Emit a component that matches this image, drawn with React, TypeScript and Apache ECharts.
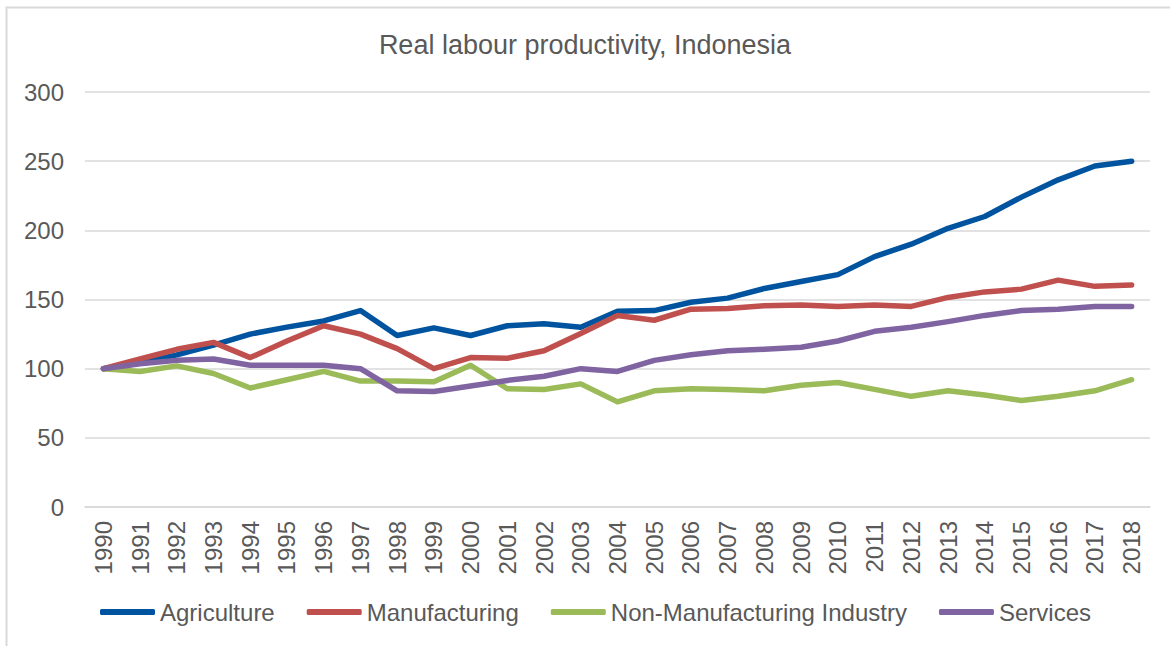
import React, { useEffect, useRef } from "react";
import * as echarts from "echarts";

const years = [
  "1990","1991","1992","1993","1994","1995","1996","1997","1998","1999",
  "2000","2001","2002","2003","2004","2005","2006","2007","2008","2009",
  "2010","2011","2012","2013","2014","2015","2016","2017","2018",
];

const agriculture = [
  100, 104, 110, 117, 125, 130, 134.5, 142, 124, 129.5,
  124, 131, 132.5, 130, 141.5, 142, 148, 151, 158, 163,
  168, 181, 190, 201.5, 210, 224, 236.5, 246.5, 250,
];

const manufacturing = [
  100, 107, 114, 119, 108, 120, 131, 125, 114.5, 100,
  108, 107.5, 113, 125.5, 138.5, 135, 143, 143.5, 145.5, 146,
  145, 146, 145, 151.5, 155.5, 157.5, 164, 159.5, 160.5,
];

const nonManufacturing = [
  100, 98, 102, 96.5, 86, 92, 98, 91, 91, 90.5,
  102.5, 85.5, 85, 89, 76, 84, 85.5, 85, 84, 88,
  90, 85, 80, 84, 81, 77, 80, 84, 92,
];

const services = [
  100, 103.5, 106, 107, 102.5, 102.5, 102.5, 100, 84, 83.5,
  87.5, 91.5, 94.5, 100, 98, 106, 110, 113, 114, 115.5,
  120, 127, 130, 134, 138.5, 142, 143, 145, 145,
];

const yTicks = { min: 0, max: 300, interval: 50 };

const seriesDefs = [
  { name: "Agriculture", data: agriculture, color: "#00549F" },
  { name: "Manufacturing", data: manufacturing, color: "#C0504D" },
  { name: "Non-Manufacturing Industry", data: nonManufacturing, color: "#9BBB59" },
  { name: "Services", data: services, color: "#8064A2" },
];

export default function App() {
  const ref = useRef<HTMLDivElement>(null);

  useEffect(() => {
    document.body.style.margin = "0";
    if (!ref.current) return;
    const chart = echarts.init(ref.current, undefined, { renderer: "svg" });
    const font = "'Liberation Sans', Arial, sans-serif";
    chart.setOption({
      animation: false,
      backgroundColor: "#ffffff",
      graphic: [
        {
          type: "rect",
          shape: { x: 6.5, y: 7.5, width: 1300, height: 800 },
          style: { fill: "none", stroke: "#d9d9d9", lineWidth: 2 },
          silent: true,
          z: -1,
        },
      ],
      title: {
        text: "Real labour productivity, Indonesia",
        left: "center",
        top: 31,
        padding: 0,
        textStyle: {
          fontFamily: font,
          fontSize: 27,
          fontWeight: "normal",
          color: "#595959",
        },
      },
      legend: {
        left: 100,
        top: 600,
        padding: 0,
        itemGap: 32,
        itemWidth: 55,
        itemHeight: 6,
        icon: "roundRect",
        textStyle: { fontFamily: font, fontSize: 24, color: "#595959" },
        data: seriesDefs.map((s) => s.name),
      },
      grid: { left: 85, right: 20, top: 92, bottom: 139, containLabel: false },
      xAxis: {
        type: "category",
        data: years,
        boundaryGap: true,
        axisLine: { lineStyle: { color: "#d9d9d9", width: 1.5 } },
        axisTick: { show: false },
        axisLabel: {
          rotate: 90,
          margin: 14,
          interval: 0,
          fontFamily: font,
          fontSize: 24,
          color: "#595959",
        },
      },
      yAxis: {
        type: "value",
        min: yTicks.min,
        max: yTicks.max,
        interval: yTicks.interval,
        axisLine: { show: false },
        axisTick: { show: false },
        splitLine: { lineStyle: { color: "#d9d9d9", width: 1.5 } },
        axisLabel: {
          margin: 21,
          fontFamily: font,
          fontSize: 24,
          color: "#595959",
        },
      },
      series: seriesDefs.map((s) => ({
        name: s.name,
        type: "line",
        data: s.data,
        symbol: "none",
        color: s.color,
        lineStyle: { color: s.color, width: 5.5, cap: "round", join: "round" },
        itemStyle: { color: s.color },
      })),
    });
    return () => chart.dispose();
  }, []);

  return <div ref={ref} style={{ width: 1170, height: 646 }} />;
}
